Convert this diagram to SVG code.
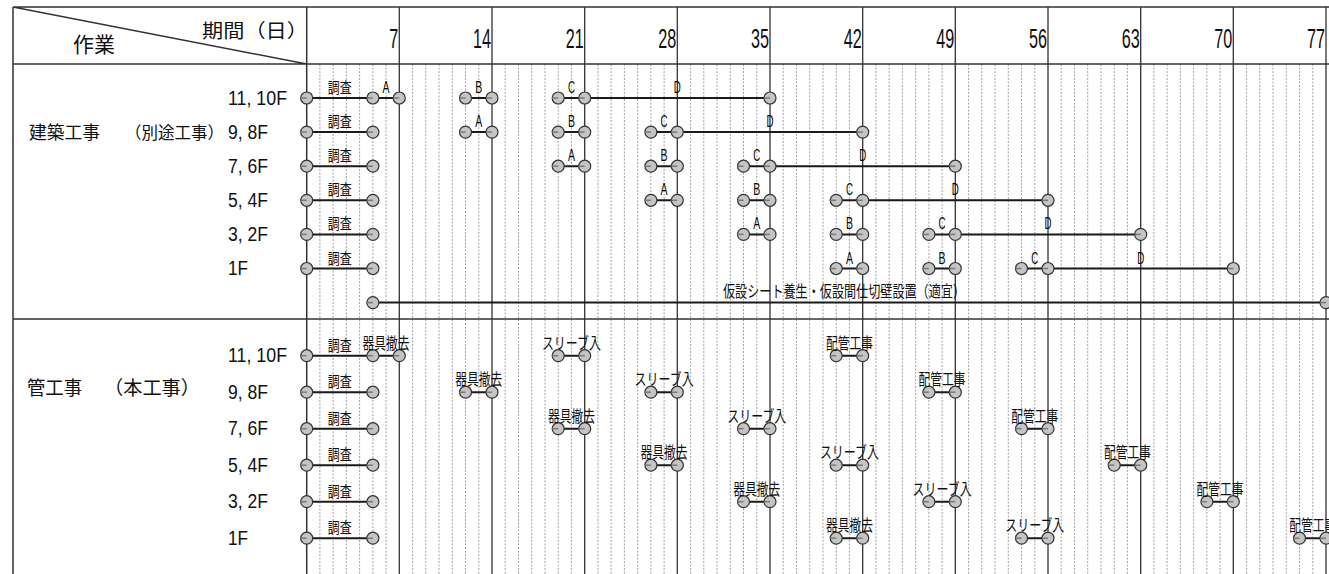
<svg xmlns="http://www.w3.org/2000/svg" width="1329" height="574" viewBox="0 0 1329 574">
<style>
.c{fill:#c4c4c4;stroke:#333;stroke-width:1.2}
.t{stroke:#7a7a7a;stroke-width:1.5}
.bar{stroke:#1a1a1a;stroke-width:2;fill:none}
.grid{stroke:#8a8a8a;stroke-width:0.8;stroke-dasharray:2 1.5;fill:none}
.major{stroke:#333;stroke-width:1.3;fill:none}
.frame{stroke:#333;stroke-width:1.5;fill:none}
.jp{font-family:"Noto Sans CJK JP","Noto Sans CJK SC",sans-serif;fill:#111}
.lat{font-family:"Liberation Sans",Arial,sans-serif;fill:#111}
.s{font-size:15px}
.m{font-size:16px}
.lt{font-size:16px;fill:#000;opacity:0.99}
.rl{font-size:19.5px}
.hd{font-size:27px;text-anchor:end}
</style>
<defs>
<g id="dot"><circle r="6" class="c"/><line x1="-6" y1="0" x2="0" y2="0" class="t"/></g>
</defs>
<g id="grid">
<path class="grid" d="M319.9 64V574M333.1 64V574M346.4 64V574M359.6 64V574M372.9 64V574M386.1 64V574M412.6 64V574M425.8 64V574M439 64V574M452.3 64V574M465.5 64V574M478.8 64V574M505.2 64V574M518.5 64V574M531.7 64V574M545 64V574M558.2 64V574M571.4 64V574M597.9 64V574M611.1 64V574M624.4 64V574M637.6 64V574M650.9 64V574M664.1 64V574M690.6 64V574M703.8 64V574M717 64V574M730.3 64V574M743.5 64V574M756.8 64V574M783.2 64V574M796.5 64V574M809.7 64V574M823 64V574M836.2 64V574M849.4 64V574M875.9 64V574M889.1 64V574M902.4 64V574M915.6 64V574M928.9 64V574M942.1 64V574M968.6 64V574M981.8 64V574M995 64V574M1008.3 64V574M1021.5 64V574M1034.8 64V574M1061.2 64V574M1074.5 64V574M1087.7 64V574M1101 64V574M1114.2 64V574M1127.4 64V574M1153.9 64V574M1167.1 64V574M1180.4 64V574M1193.6 64V574M1206.9 64V574M1220.1 64V574M1246.6 64V574M1259.8 64V574M1273 64V574M1286.3 64V574M1299.5 64V574M1312.8 64V574"/>
<path class="major" d="M399.3 7V574M492 7V574M584.7 7V574M677.3 7V574M770 7V574M862.7 7V574M955.3 7V574M1048 7V574M1140.7 7V574M1233.3 7V574M1326 7V574"/>
<path class="frame" d="M13 7H1329M13 64H1329M13 319H1329M13 7V574M306.7 7V574M13 7L306.7 64"/>
</g>
<g id="header">
<text class="jp" x="73" y="52" font-size="21" textLength="42" lengthAdjust="spacingAndGlyphs">作業</text>
<text class="jp" x="202" y="38" font-size="19" textLength="106" lengthAdjust="spacingAndGlyphs">期間（日）</text>
<text class="lat hd" transform="translate(398.3 48) scale(0.6 1)">7</text>
<text class="lat hd" transform="translate(491 48) scale(0.6 1)">14</text>
<text class="lat hd" transform="translate(583.7 48) scale(0.6 1)">21</text>
<text class="lat hd" transform="translate(676.3 48) scale(0.6 1)">28</text>
<text class="lat hd" transform="translate(769 48) scale(0.6 1)">35</text>
<text class="lat hd" transform="translate(861.7 48) scale(0.6 1)">42</text>
<text class="lat hd" transform="translate(954.3 48) scale(0.6 1)">49</text>
<text class="lat hd" transform="translate(1047 48) scale(0.6 1)">56</text>
<text class="lat hd" transform="translate(1139.7 48) scale(0.6 1)">63</text>
<text class="lat hd" transform="translate(1232.3 48) scale(0.6 1)">70</text>
<text class="lat hd" transform="translate(1325 48) scale(0.6 1)">77</text>
</g>
<g id="row-labels">
<text class="jp" x="29" y="139" font-size="18" textLength="71" lengthAdjust="spacingAndGlyphs">建築工事</text>
<text class="jp" x="125" y="139" font-size="16.5" textLength="99" lengthAdjust="spacingAndGlyphs">（別途工事）</text>
<text class="jp" x="27" y="395" font-size="19" textLength="55" lengthAdjust="spacingAndGlyphs">管工事</text>
<text class="jp" x="104" y="395" font-size="19" textLength="96" lengthAdjust="spacingAndGlyphs">（本工事）</text>
<text class="lat rl" x="228" y="104.5" textLength="59" lengthAdjust="spacingAndGlyphs">11, 10F</text>
<text class="lat rl" x="228" y="138.6" textLength="40" lengthAdjust="spacingAndGlyphs">9, 8F</text>
<text class="lat rl" x="228" y="172.7" textLength="40" lengthAdjust="spacingAndGlyphs">7, 6F</text>
<text class="lat rl" x="228" y="206.8" textLength="40" lengthAdjust="spacingAndGlyphs">5, 4F</text>
<text class="lat rl" x="228" y="240.9" textLength="40" lengthAdjust="spacingAndGlyphs">3, 2F</text>
<text class="lat rl" x="228" y="275" textLength="20" lengthAdjust="spacingAndGlyphs">1F</text>
<text class="lat rl" x="228" y="362.2" textLength="59" lengthAdjust="spacingAndGlyphs">11, 10F</text>
<text class="lat rl" x="228" y="398.7" textLength="40" lengthAdjust="spacingAndGlyphs">9, 8F</text>
<text class="lat rl" x="228" y="435.2" textLength="40" lengthAdjust="spacingAndGlyphs">7, 6F</text>
<text class="lat rl" x="228" y="471.7" textLength="40" lengthAdjust="spacingAndGlyphs">5, 4F</text>
<text class="lat rl" x="228" y="508.2" textLength="40" lengthAdjust="spacingAndGlyphs">3, 2F</text>
<text class="lat rl" x="228" y="544.7" textLength="20" lengthAdjust="spacingAndGlyphs">1F</text>
</g>
<g id="connectors">
<path class="bar" d="M306.7 98H399.3M465.5 98H492M558.2 98H770
M306.7 132.1H372.9M465.5 132.1H492M558.2 132.1H584.7M650.9 132.1H862.7
M306.7 166.2H372.9M558.2 166.2H584.7M650.9 166.2H677.3M743.5 166.2H955.3
M306.7 200.3H372.9M650.9 200.3H677.3M743.5 200.3H770M836.2 200.3H1048
M306.7 234.4H372.9M743.5 234.4H770M836.2 234.4H862.7M928.9 234.4H1140.7
M306.7 268.5H372.9M836.2 268.5H862.7M928.9 268.5H955.3M1021.5 268.5H1233.3
M372.9 302.6H1326
M306.7 355.7H399.3M558.2 355.7H584.7M836.2 355.7H862.7
M306.7 392.2H372.9M465.5 392.2H492M650.9 392.2H677.3M928.9 392.2H955.3
M306.7 428.7H372.9M558.2 428.7H584.7M743.5 428.7H770M1021.5 428.7H1048
M306.7 465.2H372.9M650.9 465.2H677.3M836.2 465.2H862.7M1114.2 465.2H1140.7
M306.7 501.7H372.9M743.5 501.7H770M928.9 501.7H955.3M1206.9 501.7H1233.3
M306.7 538.2H372.9M836.2 538.2H862.7M1021.5 538.2H1048M1299.5 538.2H1326"/>
</g>
<g id="k-row1">
<use href="#dot" x="306.7" y="98"/><use href="#dot" x="372.9" y="98"/><use href="#dot" x="399.3" y="98"/><use href="#dot" x="465.5" y="98"/><use href="#dot" x="492" y="98"/><use href="#dot" x="558.2" y="98"/><use href="#dot" x="584.7" y="98"/><use href="#dot" x="770" y="98"/>
<text class="jp s" x="327.8" y="93" textLength="24" lengthAdjust="spacingAndGlyphs">調査</text>
<text class="lat lt" x="382.6" y="93" textLength="7" lengthAdjust="spacingAndGlyphs">A</text>
<text class="lat lt" x="475.3" y="93" textLength="7" lengthAdjust="spacingAndGlyphs">B</text>
<text class="lat lt" x="567.9" y="93" textLength="7" lengthAdjust="spacingAndGlyphs">C</text>
<text class="lat lt" x="673.8" y="93" textLength="7" lengthAdjust="spacingAndGlyphs">D</text>
</g>
<g id="k-row2">
<use href="#dot" x="306.7" y="132.1"/><use href="#dot" x="372.9" y="132.1"/><use href="#dot" x="465.5" y="132.1"/><use href="#dot" x="492" y="132.1"/><use href="#dot" x="558.2" y="132.1"/><use href="#dot" x="584.7" y="132.1"/><use href="#dot" x="650.9" y="132.1"/><use href="#dot" x="677.3" y="132.1"/><use href="#dot" x="862.7" y="132.1"/>
<text class="jp s" x="327.8" y="127.1" textLength="24" lengthAdjust="spacingAndGlyphs">調査</text>
<text class="lat lt" x="475.3" y="127.1" textLength="7" lengthAdjust="spacingAndGlyphs">A</text>
<text class="lat lt" x="567.9" y="127.1" textLength="7" lengthAdjust="spacingAndGlyphs">B</text>
<text class="lat lt" x="660.6" y="127.1" textLength="7" lengthAdjust="spacingAndGlyphs">C</text>
<text class="lat lt" x="766.5" y="127.1" textLength="7" lengthAdjust="spacingAndGlyphs">D</text>
</g>
<g id="k-row3">
<use href="#dot" x="306.7" y="166.2"/><use href="#dot" x="372.9" y="166.2"/><use href="#dot" x="558.2" y="166.2"/><use href="#dot" x="584.7" y="166.2"/><use href="#dot" x="650.9" y="166.2"/><use href="#dot" x="677.3" y="166.2"/><use href="#dot" x="743.5" y="166.2"/><use href="#dot" x="770" y="166.2"/><use href="#dot" x="955.3" y="166.2"/>
<text class="jp s" x="327.8" y="161.2" textLength="24" lengthAdjust="spacingAndGlyphs">調査</text>
<text class="lat lt" x="567.9" y="161.2" textLength="7" lengthAdjust="spacingAndGlyphs">A</text>
<text class="lat lt" x="660.6" y="161.2" textLength="7" lengthAdjust="spacingAndGlyphs">B</text>
<text class="lat lt" x="753.3" y="161.2" textLength="7" lengthAdjust="spacingAndGlyphs">C</text>
<text class="lat lt" x="859.2" y="161.2" textLength="7" lengthAdjust="spacingAndGlyphs">D</text>
</g>
<g id="k-row4">
<use href="#dot" x="306.7" y="200.3"/><use href="#dot" x="372.9" y="200.3"/><use href="#dot" x="650.9" y="200.3"/><use href="#dot" x="677.3" y="200.3"/><use href="#dot" x="743.5" y="200.3"/><use href="#dot" x="770" y="200.3"/><use href="#dot" x="836.2" y="200.3"/><use href="#dot" x="862.7" y="200.3"/><use href="#dot" x="1048" y="200.3"/>
<text class="jp s" x="327.8" y="195.3" textLength="24" lengthAdjust="spacingAndGlyphs">調査</text>
<text class="lat lt" x="660.6" y="195.3" textLength="7" lengthAdjust="spacingAndGlyphs">A</text>
<text class="lat lt" x="753.3" y="195.3" textLength="7" lengthAdjust="spacingAndGlyphs">B</text>
<text class="lat lt" x="845.9" y="195.3" textLength="7" lengthAdjust="spacingAndGlyphs">C</text>
<text class="lat lt" x="951.8" y="195.3" textLength="7" lengthAdjust="spacingAndGlyphs">D</text>
</g>
<g id="k-row5">
<use href="#dot" x="306.7" y="234.4"/><use href="#dot" x="372.9" y="234.4"/><use href="#dot" x="743.5" y="234.4"/><use href="#dot" x="770" y="234.4"/><use href="#dot" x="836.2" y="234.4"/><use href="#dot" x="862.7" y="234.4"/><use href="#dot" x="928.9" y="234.4"/><use href="#dot" x="955.3" y="234.4"/><use href="#dot" x="1140.7" y="234.4"/>
<text class="jp s" x="327.8" y="229.4" textLength="24" lengthAdjust="spacingAndGlyphs">調査</text>
<text class="lat lt" x="753.3" y="229.4" textLength="7" lengthAdjust="spacingAndGlyphs">A</text>
<text class="lat lt" x="845.9" y="229.4" textLength="7" lengthAdjust="spacingAndGlyphs">B</text>
<text class="lat lt" x="938.6" y="229.4" textLength="7" lengthAdjust="spacingAndGlyphs">C</text>
<text class="lat lt" x="1044.5" y="229.4" textLength="7" lengthAdjust="spacingAndGlyphs">D</text>
</g>
<g id="k-row6">
<use href="#dot" x="306.7" y="268.5"/><use href="#dot" x="372.9" y="268.5"/><use href="#dot" x="836.2" y="268.5"/><use href="#dot" x="862.7" y="268.5"/><use href="#dot" x="928.9" y="268.5"/><use href="#dot" x="955.3" y="268.5"/><use href="#dot" x="1021.5" y="268.5"/><use href="#dot" x="1048" y="268.5"/><use href="#dot" x="1233.3" y="268.5"/>
<text class="jp s" x="327.8" y="263.5" textLength="24" lengthAdjust="spacingAndGlyphs">調査</text>
<text class="lat lt" x="845.9" y="263.5" textLength="7" lengthAdjust="spacingAndGlyphs">A</text>
<text class="lat lt" x="938.6" y="263.5" textLength="7" lengthAdjust="spacingAndGlyphs">B</text>
<text class="lat lt" x="1031.3" y="263.5" textLength="7" lengthAdjust="spacingAndGlyphs">C</text>
<text class="lat lt" x="1137.2" y="263.5" textLength="7" lengthAdjust="spacingAndGlyphs">D</text>
</g>
<g id="k-temp">
<use href="#dot" x="372.9" y="302.6"/><use href="#dot" x="1326" y="302.6"/>
<text class="jp m" x="723" y="296.5" textLength="242" lengthAdjust="spacingAndGlyphs">仮設シート養生・仮設間仕切壁設置（適宜）</text>
</g>
<g id="p-row1">
<use href="#dot" x="306.7" y="355.7"/><use href="#dot" x="372.9" y="355.7"/><use href="#dot" x="399.3" y="355.7"/><use href="#dot" x="558.2" y="355.7"/><use href="#dot" x="584.7" y="355.7"/><use href="#dot" x="836.2" y="355.7"/><use href="#dot" x="862.7" y="355.7"/>
<text class="jp s" x="327.8" y="350.7" textLength="24" lengthAdjust="spacingAndGlyphs">調査</text>
<text class="jp m" x="362.6" y="348.7" textLength="47" lengthAdjust="spacingAndGlyphs">器具撤去</text>
<text class="jp m" x="541.9" y="348.7" textLength="59" lengthAdjust="spacingAndGlyphs">スリーブ入</text>
<text class="jp m" x="825.9" y="348.7" textLength="47" lengthAdjust="spacingAndGlyphs">配管工事</text>
</g>
<g id="p-row2">
<use href="#dot" x="306.7" y="392.2"/><use href="#dot" x="372.9" y="392.2"/><use href="#dot" x="465.5" y="392.2"/><use href="#dot" x="492" y="392.2"/><use href="#dot" x="650.9" y="392.2"/><use href="#dot" x="677.3" y="392.2"/><use href="#dot" x="928.9" y="392.2"/><use href="#dot" x="955.3" y="392.2"/>
<text class="jp s" x="327.8" y="387.2" textLength="24" lengthAdjust="spacingAndGlyphs">調査</text>
<text class="jp m" x="455.3" y="385.2" textLength="47" lengthAdjust="spacingAndGlyphs">器具撤去</text>
<text class="jp m" x="634.6" y="385.2" textLength="59" lengthAdjust="spacingAndGlyphs">スリーブ入</text>
<text class="jp m" x="918.6" y="385.2" textLength="47" lengthAdjust="spacingAndGlyphs">配管工事</text>
</g>
<g id="p-row3">
<use href="#dot" x="306.7" y="428.7"/><use href="#dot" x="372.9" y="428.7"/><use href="#dot" x="558.2" y="428.7"/><use href="#dot" x="584.7" y="428.7"/><use href="#dot" x="743.5" y="428.7"/><use href="#dot" x="770" y="428.7"/><use href="#dot" x="1021.5" y="428.7"/><use href="#dot" x="1048" y="428.7"/>
<text class="jp s" x="327.8" y="423.7" textLength="24" lengthAdjust="spacingAndGlyphs">調査</text>
<text class="jp m" x="547.9" y="421.7" textLength="47" lengthAdjust="spacingAndGlyphs">器具撤去</text>
<text class="jp m" x="727.3" y="421.7" textLength="59" lengthAdjust="spacingAndGlyphs">スリーブ入</text>
<text class="jp m" x="1011.3" y="421.7" textLength="47" lengthAdjust="spacingAndGlyphs">配管工事</text>
</g>
<g id="p-row4">
<use href="#dot" x="306.7" y="465.2"/><use href="#dot" x="372.9" y="465.2"/><use href="#dot" x="650.9" y="465.2"/><use href="#dot" x="677.3" y="465.2"/><use href="#dot" x="836.2" y="465.2"/><use href="#dot" x="862.7" y="465.2"/><use href="#dot" x="1114.2" y="465.2"/><use href="#dot" x="1140.7" y="465.2"/>
<text class="jp s" x="327.8" y="460.2" textLength="24" lengthAdjust="spacingAndGlyphs">調査</text>
<text class="jp m" x="640.6" y="458.2" textLength="47" lengthAdjust="spacingAndGlyphs">器具撤去</text>
<text class="jp m" x="819.9" y="458.2" textLength="59" lengthAdjust="spacingAndGlyphs">スリーブ入</text>
<text class="jp m" x="1103.9" y="458.2" textLength="47" lengthAdjust="spacingAndGlyphs">配管工事</text>
</g>
<g id="p-row5">
<use href="#dot" x="306.7" y="501.7"/><use href="#dot" x="372.9" y="501.7"/><use href="#dot" x="743.5" y="501.7"/><use href="#dot" x="770" y="501.7"/><use href="#dot" x="928.9" y="501.7"/><use href="#dot" x="955.3" y="501.7"/><use href="#dot" x="1206.9" y="501.7"/><use href="#dot" x="1233.3" y="501.7"/>
<text class="jp s" x="327.8" y="496.7" textLength="24" lengthAdjust="spacingAndGlyphs">調査</text>
<text class="jp m" x="733.3" y="494.7" textLength="47" lengthAdjust="spacingAndGlyphs">器具撤去</text>
<text class="jp m" x="912.6" y="494.7" textLength="59" lengthAdjust="spacingAndGlyphs">スリーブ入</text>
<text class="jp m" x="1196.6" y="494.7" textLength="47" lengthAdjust="spacingAndGlyphs">配管工事</text>
</g>
<g id="p-row6">
<use href="#dot" x="306.7" y="538.2"/><use href="#dot" x="372.9" y="538.2"/><use href="#dot" x="836.2" y="538.2"/><use href="#dot" x="862.7" y="538.2"/><use href="#dot" x="1021.5" y="538.2"/><use href="#dot" x="1048" y="538.2"/><use href="#dot" x="1299.5" y="538.2"/><use href="#dot" x="1326" y="538.2"/>
<text class="jp s" x="327.8" y="533.2" textLength="24" lengthAdjust="spacingAndGlyphs">調査</text>
<text class="jp m" x="825.9" y="531.2" textLength="47" lengthAdjust="spacingAndGlyphs">器具撤去</text>
<text class="jp m" x="1005.3" y="531.2" textLength="59" lengthAdjust="spacingAndGlyphs">スリーブ入</text>
<text class="jp m" x="1289.3" y="531.2" textLength="47" lengthAdjust="spacingAndGlyphs">配管工事</text>
</g>
</svg>
